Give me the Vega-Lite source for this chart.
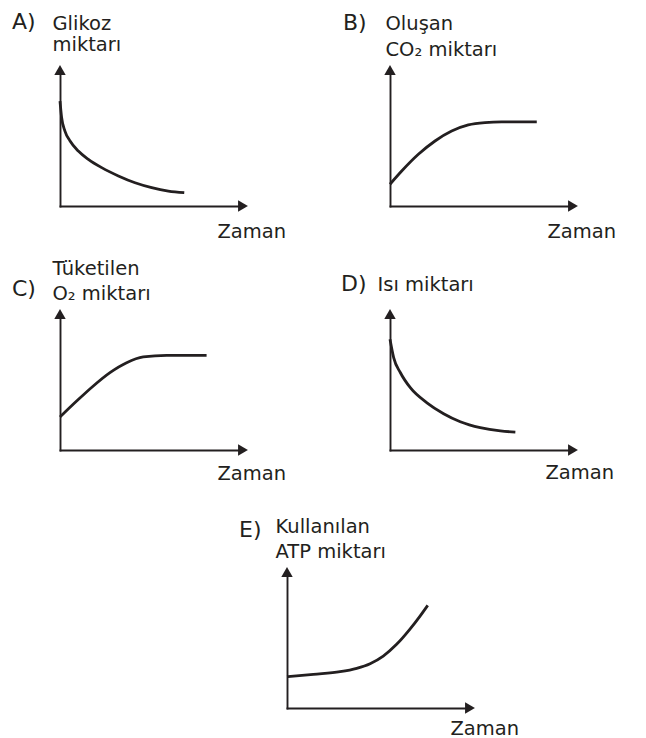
{
  "$schema": "https://vega.github.io/schema/vega-lite/v6.json",
  "background": "white",
  "padding": {"left": 12, "top": 11, "right": 5, "bottom": 5},
  "datasets": {
    "A": [
      {"zaman": 0, "miktar": 7.72}, {"zaman": 0.09, "miktar": 6.49}, {"zaman": 0.27, "miktar": 5.51},
      {"zaman": 0.55, "miktar": 4.78}, {"zaman": 1.0, "miktar": 4.04}, {"zaman": 1.55, "miktar": 3.43},
      {"zaman": 2.28, "miktar": 2.82}, {"zaman": 3.19, "miktar": 2.21}, {"zaman": 4.1, "miktar": 1.71},
      {"zaman": 5.01, "miktar": 1.35}, {"zaman": 5.92, "miktar": 1.1}, {"zaman": 6.79, "miktar": 0.98}
    ],
    "B": [
      {"zaman": 0, "miktar": 1.6}, {"zaman": 0.64, "miktar": 2.57}, {"zaman": 1.55, "miktar": 3.8},
      {"zaman": 2.46, "miktar": 4.78}, {"zaman": 3.37, "miktar": 5.51}, {"zaman": 4.28, "miktar": 5.96},
      {"zaman": 5.19, "miktar": 6.13}, {"zaman": 6.1, "miktar": 6.18}, {"zaman": 8.02, "miktar": 6.18}
    ],
    "C": [
      {"zaman": 0, "miktar": 2.43}, {"zaman": 0.91, "miktar": 3.6}, {"zaman": 1.82, "miktar": 4.71},
      {"zaman": 2.73, "miktar": 5.69}, {"zaman": 3.64, "miktar": 6.42}, {"zaman": 4.55, "miktar": 6.84},
      {"zaman": 5.83, "miktar": 6.96}, {"zaman": 8.01, "miktar": 6.96}
    ],
    "D": [
      {"zaman": 0, "miktar": 8.14}, {"zaman": 0.2, "miktar": 6.79}, {"zaman": 0.57, "miktar": 5.68},
      {"zaman": 1.11, "miktar": 4.58}, {"zaman": 2.02, "miktar": 3.47}, {"zaman": 2.93, "miktar": 2.67},
      {"zaman": 3.84, "miktar": 2.08}, {"zaman": 4.93, "miktar": 1.64}, {"zaman": 6.03, "miktar": 1.4},
      {"zaman": 6.85, "miktar": 1.32}
    ],
    "E": [
      {"zaman": 0, "miktar": 2.3}, {"zaman": 1.44, "miktar": 2.48}, {"zaman": 2.9, "miktar": 2.67},
      {"zaman": 3.81, "miktar": 2.92}, {"zaman": 4.54, "miktar": 3.26}, {"zaman": 5.26, "miktar": 3.82},
      {"zaman": 5.99, "miktar": 4.68}, {"zaman": 6.72, "miktar": 5.8}, {"zaman": 7.27, "miktar": 6.76},
      {"zaman": 7.69, "miktar": 7.55}
    ]
  },
  "columns": 3,
  "align": "none",
  "bounds": "flush",
  "spacing": {"row": 108, "column": 44},
  "concat": [
    {
      "width": 183, "height": 136,
      "layer": [
        {"data": {"name": "A"},
         "mark": {"type": "line", "interpolate": "monotone", "color": "#231f20", "strokeWidth": 2.8},
         "encoding": {
           "x": {"field": "zaman", "type": "quantitative", "scale": {"domain": [0, 10], "nice": false}, "axis": {"title": "Zaman", "titleX": 157, "titleY": 31}},
           "y": {"field": "miktar", "type": "quantitative", "scale": {"domain": [0, 10], "nice": false}, "axis": {"title": ["Glikoz", "miktarı"], "titleX": -8, "titleY": -56, "titleLineHeight": 21.7}}
         }},
        {"data": {"values": [{}]}, "mark": {"type": "point", "shape": "triangle-right", "filled": true, "size": 130, "color": "#231f20", "opacity": 1}, "encoding": {"x": {"datum": 10}, "y": {"datum": 0}}},
        {"data": {"values": [{}]}, "mark": {"type": "point", "shape": "triangle-up", "filled": true, "size": 130, "color": "#231f20", "opacity": 1}, "encoding": {"x": {"datum": 0}, "y": {"datum": 10}}},
        {"data": {"values": [{}]}, "mark": {"type": "text", "text": "A)", "align": "left", "baseline": "alphabetic", "dx": -48, "dy": -41, "fontSize": 22, "font": "DejaVu Sans", "color": "#231f20"}, "encoding": {"x": {"datum": 0}, "y": {"datum": 10}}}
      ]
    },
    {"width": 59, "height": 136, "data": {"values": []}, "mark": "point"},
    {
      "width": 183, "height": 136,
      "layer": [
        {"data": {"name": "B"},
         "mark": {"type": "line", "interpolate": "monotone", "color": "#231f20", "strokeWidth": 2.8},
         "encoding": {
           "x": {"field": "zaman", "type": "quantitative", "scale": {"domain": [0, 10], "nice": false}, "axis": {"title": "Zaman", "titleX": 157, "titleY": 31}},
           "y": {"field": "miktar", "type": "quantitative", "scale": {"domain": [0, 10], "nice": false}, "axis": {"title": ["Oluşan", "CO₂ miktarı"], "titleX": -5, "titleY": -56, "titleLineHeight": 26.5}}
         }},
        {"data": {"values": [{}]}, "mark": {"type": "point", "shape": "triangle-right", "filled": true, "size": 130, "color": "#231f20", "opacity": 1}, "encoding": {"x": {"datum": 10}, "y": {"datum": 0}}},
        {"data": {"values": [{}]}, "mark": {"type": "point", "shape": "triangle-up", "filled": true, "size": 130, "color": "#231f20", "opacity": 1}, "encoding": {"x": {"datum": 0}, "y": {"datum": 10}}},
        {"data": {"values": [{}]}, "mark": {"type": "text", "text": "B)", "align": "left", "baseline": "alphabetic", "dx": -47, "dy": -40, "fontSize": 22, "font": "DejaVu Sans", "color": "#231f20"}, "encoding": {"x": {"datum": 0}, "y": {"datum": 10}}}
      ]
    },
    {
      "width": 183, "height": 136,
      "layer": [
        {"data": {"name": "C"},
         "mark": {"type": "line", "interpolate": "monotone", "color": "#231f20", "strokeWidth": 2.8},
         "encoding": {
           "x": {"field": "zaman", "type": "quantitative", "scale": {"domain": [0, 10], "nice": false}, "axis": {"title": "Zaman", "titleX": 157, "titleY": 29}},
           "y": {"field": "miktar", "type": "quantitative", "scale": {"domain": [0, 10], "nice": false}, "axis": {"title": ["Tüketilen", "O₂ miktarı"], "titleX": -8, "titleY": -54.5, "titleLineHeight": 25}}
         }},
        {"data": {"values": [{}]}, "mark": {"type": "point", "shape": "triangle-right", "filled": true, "size": 130, "color": "#231f20", "opacity": 1}, "encoding": {"x": {"datum": 10}, "y": {"datum": 0}}},
        {"data": {"values": [{}]}, "mark": {"type": "point", "shape": "triangle-up", "filled": true, "size": 130, "color": "#231f20", "opacity": 1}, "encoding": {"x": {"datum": 0}, "y": {"datum": 10}}},
        {"data": {"values": [{}]}, "mark": {"type": "text", "text": "C)", "align": "left", "baseline": "alphabetic", "dx": -48, "dy": -18, "fontSize": 22, "font": "DejaVu Sans", "color": "#231f20"}, "encoding": {"x": {"datum": 0}, "y": {"datum": 10}}}
      ]
    },
    {"width": 59, "height": 150, "data": {"values": []}, "mark": "point"},
    {
      "width": 183, "height": 136,
      "layer": [
        {"data": {"name": "D"},
         "mark": {"type": "line", "interpolate": "monotone", "color": "#231f20", "strokeWidth": 2.8},
         "encoding": {
           "x": {"field": "zaman", "type": "quantitative", "scale": {"domain": [0, 10], "nice": false}, "axis": {"title": "Zaman", "titleX": 155, "titleY": 28}},
           "y": {"field": "miktar", "type": "quantitative", "scale": {"domain": [0, 10], "nice": false}, "axis": {"title": "Isı miktarı", "titleX": -13, "titleY": -38.5}}
         }},
        {"data": {"values": [{}]}, "mark": {"type": "point", "shape": "triangle-right", "filled": true, "size": 130, "color": "#231f20", "opacity": 1}, "encoding": {"x": {"datum": 10}, "y": {"datum": 0}}},
        {"data": {"values": [{}]}, "mark": {"type": "point", "shape": "triangle-up", "filled": true, "size": 130, "color": "#231f20", "opacity": 1}, "encoding": {"x": {"datum": 0}, "y": {"datum": 10}}},
        {"data": {"values": [{}]}, "mark": {"type": "text", "text": "D)", "align": "left", "baseline": "alphabetic", "dx": -49, "dy": -23, "fontSize": 22, "font": "DejaVu Sans", "color": "#231f20"}, "encoding": {"x": {"datum": 0}, "y": {"datum": 10}}}
      ]
    },
    {"width": 183, "height": 136, "data": {"values": []}, "mark": "point"},
    {
      "width": 59, "height": 136,
      "layer": [
        {"data": {"name": "E"},
         "mark": {"type": "line", "interpolate": "monotone", "color": "#231f20", "strokeWidth": 2.8},
         "encoding": {
           "x": {"field": "zaman", "type": "quantitative", "scale": {"domain": [0, 10], "nice": false, "range": [0, 183]}, "axis": {"title": "Zaman", "titleX": 163, "titleY": 26}},
           "y": {"field": "miktar", "type": "quantitative", "scale": {"domain": [0, 10], "nice": false}, "axis": {"title": ["Kullanılan", "ATP miktarı"], "titleX": -12, "titleY": -54.7, "titleLineHeight": 25}}
         }},
        {"data": {"values": [{}]}, "mark": {"type": "point", "shape": "triangle-right", "filled": true, "size": 130, "color": "#231f20", "opacity": 1}, "encoding": {"x": {"datum": 10}, "y": {"datum": 0}}},
        {"data": {"values": [{}]}, "mark": {"type": "point", "shape": "triangle-up", "filled": true, "size": 130, "color": "#231f20", "opacity": 1}, "encoding": {"x": {"datum": 0}, "y": {"datum": 10}}},
        {"data": {"values": [{}]}, "mark": {"type": "text", "text": "E)", "align": "left", "baseline": "alphabetic", "dx": -48, "dy": -35, "fontSize": 22, "font": "DejaVu Sans", "color": "#231f20"}, "encoding": {"x": {"datum": 0}, "y": {"datum": 10}}}
      ]
    }
  ],
  "config": {
    "view": {"stroke": null},
    "font": "DejaVu Sans",
    "axis": {
      "domain": true, "domainColor": "#231f20", "domainWidth": 1.9, "domainCap": "square",
      "ticks": false, "labels": false, "grid": false,
      "titleFont": "DejaVu Sans", "titleFontSize": 19.5, "titleFontWeight": "normal", "titleColor": "#231f20",
      "titleAlign": "left", "titleAngle": 0, "titlePadding": 0
    },
    "axisX": {"titleBaseline": "alphabetic"},
    "axisY": {"titleBaseline": "top", "titleAngle": 0}
  }
}
